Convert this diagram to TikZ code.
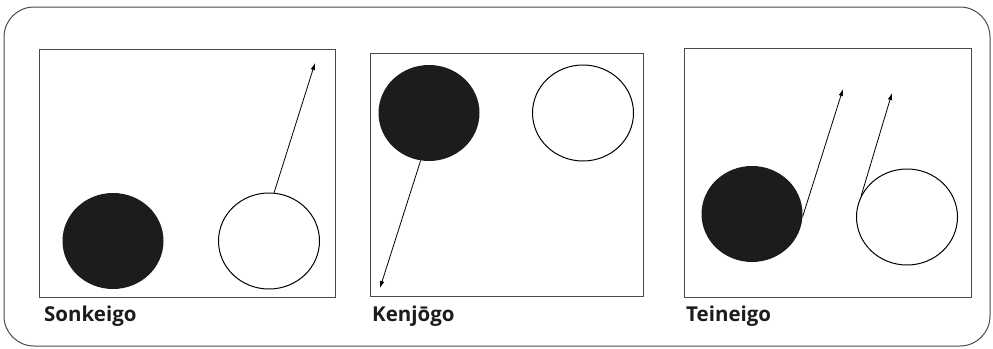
\documentclass[tikz,border=0pt]{standalone}
\usepackage{fontspec}
\newfontfamily\capfont{Open Sans}
\usepackage{tikz}
\usetikzlibrary{arrows.meta,positioning,shapes.geometric}

\definecolor{inkdark}{HTML}{1C1C1C}
\definecolor{framegray}{HTML}{4A4A4A}

\tikzset{
  panel/.style={draw=framegray,line width=0.9pt,inner sep=0pt},
  full/.style={ellipse,fill=inkdark,minimum width=101pt,minimum height=96pt,inner sep=0pt},
  open/.style={ellipse,draw=black,line width=1pt,minimum width=101pt,minimum height=96pt,inner sep=0pt},
  caption/.style={anchor=base west,inner sep=0pt,font=\capfont\bfseries\fontsize{20.5}{24}\selectfont,text=inkdark},
  move/.style={draw,line width=0.8pt,-{Latex[length=7pt,width=4.5pt]}}
}

\begin{document}
\begin{tikzpicture}[x=1pt,y=-1pt]
\useasboundingbox (0,0) rectangle (993,348);
\draw[framegray,line width=1pt,rounded corners=30pt] (4,7) rectangle (990,346);

% Sonkeigo
\node[panel,minimum width=296pt,minimum height=248pt] (p1) at (187,173) {};
\node[full] (f1) at (113,241) {};
\node[open] (o1) at (269,241) {};
\coordinate (t1) at (315,63);
\draw[move] (o1.84) -- (t1);
\node[caption] (c1) at (44,321) {Sonkeigo};

% Kenjogo
\node[panel,minimum width=273pt,minimum height=243pt] (p2) at (506.5,174.5) {};
\node[full] (f2) at (429,113) {};
\node[open] (o2) at (583,113) {};
\coordinate (t2) at (380,288);
\draw[move] (f2.-100) -- (t2);
\node[caption] (c2) at (372,321) {Kenjōgo};

% Teineigo
\node[panel,minimum width=287pt,minimum height=249pt] (p3) at (827.5,172.5) {};
\node[full] (f3) at (752,214) {};
\node[open] (o3) at (907,217) {};
\coordinate (t3) at (843,89);
\coordinate (t4) at (892,93);
\draw[move] (f3.-3) -- (t3);
\draw[move] (o3.155) -- (t4);
\node[caption] (c3) at (686,321) {Teineigo};
\end{tikzpicture}
\end{document}
